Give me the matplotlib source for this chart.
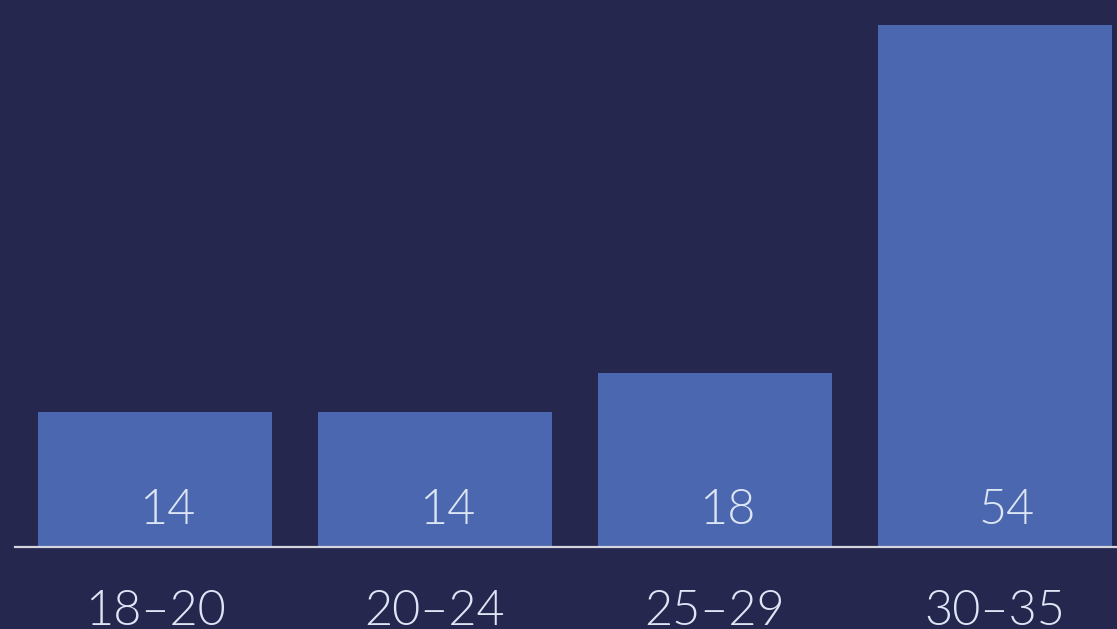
import matplotlib
matplotlib.use("Agg")
import matplotlib.pyplot as plt
import numpy as np

categories = ["18–20", "20–24", "25–29", "30–35"]
values = [14, 14, 18, 54]

BG = "#25274F"
BAR = "#4A67AF"
TXT = "#DDE6F5"

fig = plt.figure(figsize=(11.17, 6.29), dpi=100, facecolor=BG)
ax = fig.add_axes([15/1117, 82/629, 1102/1117, 547/629])
ax.set_facecolor(BG)

x = np.arange(len(categories))
ax.bar(x, values, width=0.836, color=BAR, zorder=2)
ax.set_xlim(-0.5, 3.436)
ax.set_ylim(0, 56.6)

for s in ["top", "right", "left"]:
    ax.spines[s].set_visible(False)
ax.spines["bottom"].set_color("#D4D4DC")
ax.spines["bottom"].set_linewidth(1.6)
ax.spines["bottom"].set_zorder(3)
ax.set_yticks([])
ax.set_xticks([])

font = dict(family=["Lato", "DejaVu Sans"], weight=300, color=TXT, fontsize=35)
for xi, v in zip(x, values):
    ax.text(xi + 0.043, 2.4, str(v), ha="center", va="baseline", **font)
for xi, c in zip(x, categories):
    ax.text(xi, -(625 - 547) / 547, c, ha="center", va="baseline",
            transform=ax.get_xaxis_transform(), **font)

fig.savefig("out.png", dpi=100, facecolor=BG)
